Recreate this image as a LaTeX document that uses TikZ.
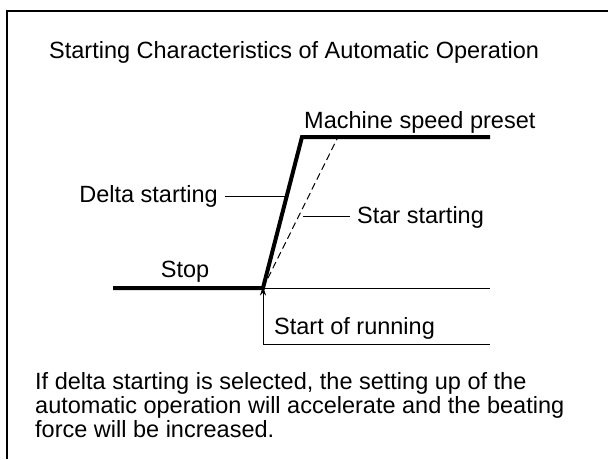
\documentclass[tikz,border=0pt]{standalone}
\usepackage{fontspec}
\setmainfont{Liberation Sans}
\usetikzlibrary{arrows.meta}
\begin{document}
\begin{tikzpicture}[x=1pt,y=-1pt,
  lbl/.style={font=\fontsize{23.5}{24}\selectfont, inner sep=0pt},
  thickline/.style={line width=4pt},
  thinline/.style={line width=1pt},
  leader/.style={line width=0.9pt}]
\useasboundingbox (0,0) rectangle (608,459);
% frame
\draw[line width=2pt] (7,459) -- (7,11) -- (608,11);
% title
\node[lbl, anchor=base west] (title) at (49,58) {Starting Characteristics of Automatic Operation};
% curve points
\coordinate (s0) at (113,288);
\coordinate (s1) at (263,288);
\coordinate (d1) at (302,137);
\coordinate (d2) at (490,137);
\coordinate (e1) at (490,288);
\coordinate (st) at (338,137);
\draw[thickline, line join=miter] (s0) -- (s1) -- (d1) -- (d2);
\draw[thinline] (s1) -- (e1);
\draw[thinline, dash pattern=on 7pt off 4pt] (s1) -- (st);
% labels
\node[lbl, anchor=base west] (msp) at (304,128) {Machine speed preset};
\node[lbl, anchor=base east] (delta) at (218,202) {Delta starting};
\coordinate (dl0) at (225,196);
\coordinate (dl) at (285,196);
\draw[leader] (dl0) -- (dl);
\node[lbl, anchor=base west] (star) at (357,223) {Star starting};
\coordinate (sl) at (303,216);
\coordinate (sl1) at (350,216);
\draw[leader] (sl) -- (sl1);
\node[lbl, anchor=base] (stop) at (185,277) {Stop};
% start of running
\coordinate (a0) at (263,344);
\coordinate (a1) at (490,344);
\draw[thinline, -{Stealth[length=9pt,width=6pt]}] (a0) -- ([yshift=1.5pt]s1);
\draw[thinline] (a0) -- (a1);
\node[lbl, anchor=base west] (sor) at (274,334) {Start of running};
% paragraph
\node[lbl, anchor=base west] (para1) at (35,389) {If delta starting is selected, the setting up of the};
\node[lbl, anchor=base west] (para2) at (35,413) {automatic operation will accelerate and the beating};
\node[lbl, anchor=base west] (para3) at (35,437) {force will be increased.};
\end{tikzpicture}
\end{document}
